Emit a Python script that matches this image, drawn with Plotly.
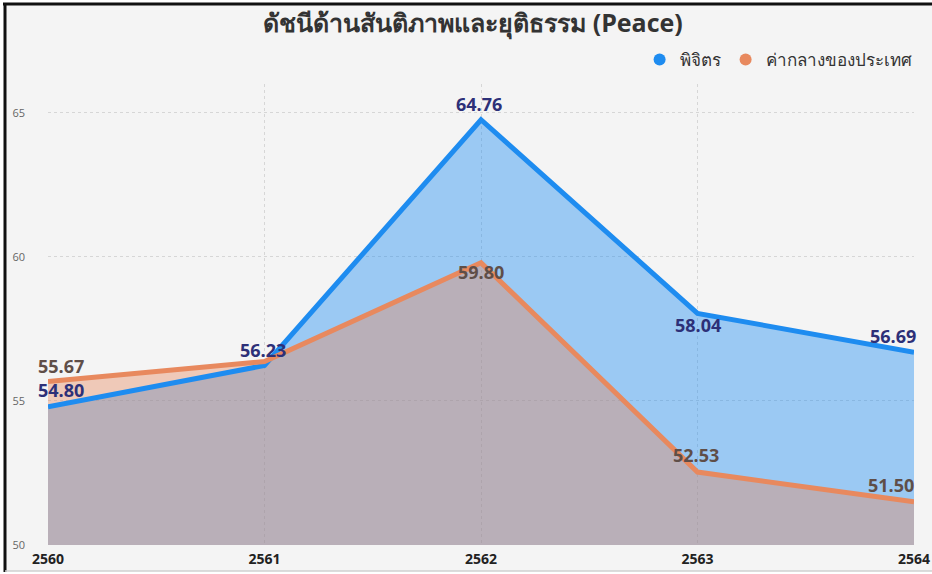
import plotly.graph_objects as go

years = ["2560", "2561", "2562", "2563", "2564"]
phichit = [54.80, 56.23, 64.76, 58.04, 56.69]
national = [55.67, 56.37, 59.80, 52.53, 51.50]
phichit_labels = ["54.80", "56.23", "64.76", "58.04", "56.69"]
national_labels = ["55.67", "", "59.80", "52.53", "51.50"]
y_ticks = [50, 55, 60, 65]

# label offsets (pixels) relative to each point
phichit_shift = [(13, 17), (-2, 16), (-2, 16), (0, -12), (-21, 16)]
national_shift = [(13, 16), (0, 0), (0, -9), (-2, 17), (-23, 17)]

BLUE = "rgb(30,140,240)"
ORANGE = "rgb(232,137,94)"
FONT = "Open Sans, Noto Sans, sans-serif"

fig = go.Figure()
# fills first
fig.add_trace(go.Scatter(x=years, y=phichit, mode="none", fill="tozeroy",
                         fillcolor="rgba(30,140,240,0.42)", showlegend=False, hoverinfo="skip"))
fig.add_trace(go.Scatter(x=years, y=national, mode="none", fill="tozeroy",
                         fillcolor="rgba(232,135,90,0.39)", showlegend=False, hoverinfo="skip"))
# lines on top
fig.add_trace(go.Scatter(x=years, y=phichit, mode="lines", name="พิจิตร",
                         line=dict(color=BLUE, width=5), showlegend=False))
fig.add_trace(go.Scatter(x=years, y=national, mode="lines", name="ค่ากลางของประเทศ",
                         line=dict(color=ORANGE, width=5), showlegend=False))
# legend entries with circle markers
fig.add_trace(go.Scatter(x=[None], y=[None], mode="markers", name="พิจิตร",
                         marker=dict(color=BLUE, size=10, symbol="circle")))
fig.add_trace(go.Scatter(x=[None], y=[None], mode="markers", name="ค่ากลางของประเทศ",
                         marker=dict(color=ORANGE, size=10, symbol="circle")))

annotations = []
for ys, labs, shifts, col in [
    (phichit, phichit_labels, phichit_shift, "rgb(45,48,120)"),
    (national, national_labels, national_shift, "rgb(95,78,72)"),
]:
    for i, (yv, lab, (dx, dy)) in enumerate(zip(ys, labs, shifts)):
        if not lab:
            continue
        annotations.append(dict(x=i, y=yv, xref="x", yref="y", text="<b>%s</b>" % lab,
                                showarrow=False, xshift=dx, yshift=dy,
                                xanchor="center", yanchor="middle",
                                font=dict(family=FONT, size=18, color=col)))

L, R, T, B = 48, 18, 84, 29
W, H = 932, 574
pw, ph = W - L - R, H - T - B

def px(xp):
    return (xp - L) / pw

def py(yp):
    return (H - B - yp) / ph

shapes = [
    dict(type="rect", xref="paper", yref="paper", x0=px(5), x1=px(933), y0=py(571), y1=py(4),
         fillcolor="#f4f4f4", line=dict(width=0), layer="below"),
    dict(type="line", xref="paper", yref="paper", x0=px(3), x1=px(933), y0=py(4), y1=py(4),
         line=dict(color="#111", width=3)),
    dict(type="line", xref="paper", yref="paper", x0=px(5), x1=px(5), y0=py(572), y1=py(3),
         line=dict(color="#111", width=3)),
    dict(type="line", xref="paper", yref="paper", x0=px(5), x1=px(933), y0=py(571), y1=py(571),
         line=dict(color="#d0d0d0", width=1.5)),
]

fig.update_layout(
    width=W, height=H,
    margin=dict(l=L, r=R, t=T, b=B, autoexpand=False),
    paper_bgcolor="white", plot_bgcolor="rgba(0,0,0,0)",
    shapes=shapes, annotations=annotations,
    title=dict(text="<b>ดัชนีด้านสันติภาพและยุติธรรม (Peace)</b>", x=473 / W, xref="container",
               xanchor="center", y=1 - 23 / H, yref="container", yanchor="middle",
               font=dict(family=FONT, size=25, color="#333")),
    legend=dict(orientation="h", x=1.003, xanchor="right", y=py(60), yanchor="middle",
                font=dict(family=FONT, size=17, color="#333"), bgcolor="rgba(0,0,0,0)",
                itemsizing="constant", tracegroupgap=0, itemwidth=30),
    xaxis=dict(type="category", range=[0, 4], showgrid=True, gridcolor="#d6d6d6",
               griddash="dot", gridwidth=1, showline=False, zeroline=False, ticks="",
               ticklabelstandoff=4,
               tickfont=dict(family=FONT, size=14, color="#222", weight="bold")),
    yaxis=dict(range=[50, 66], tickvals=y_ticks, showgrid=True, gridcolor="#d6d6d6",
               griddash="dot", gridwidth=1, zeroline=False, showline=False, ticks="",
               ticklabelstandoff=22,
               tickfont=dict(family=FONT, size=11, color="#666")),
)

fig.write_html("out.html", config={"displayModeBar": False},
               post_script="document.body.style.margin='0';document.body.style.overflow='hidden';")
